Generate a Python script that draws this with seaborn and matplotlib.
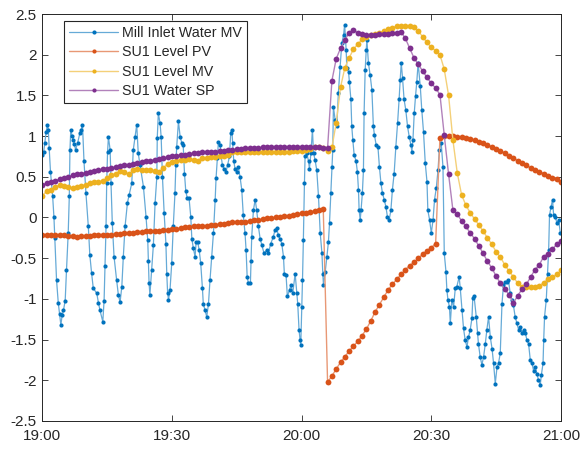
import matplotlib
matplotlib.use("Agg")
import matplotlib.pyplot as plt
import matplotlib.colors as mcolors
import numpy as np
import seaborn as sns

# ── Data (minutes after 19:00) ───────────────────────────────────────────────
# Mill inlet water MV: irregular samples, times in minutes
blue_t = [
    0.0, 0.3, 0.6, 0.9, 1.2, 1.4, 1.6, 1.9, 2.4, 2.7,
    2.9, 3.3, 3.7, 4.0, 4.3, 4.6, 4.9, 5.3, 5.6, 6.0,
    6.25, 6.4, 6.6, 6.9, 7.2, 7.45, 7.7, 8.2, 8.7, 9.0,
    9.3, 9.65, 10.1, 10.65, 11.0, 11.4, 11.8, 12.6, 13.0, 13.35,
    14.0, 14.3, 14.5, 14.75, 14.9, 15.1, 15.3, 15.7, 15.9, 16.2,
    16.6, 17.2, 17.6, 18.0, 18.4, 18.75, 19.15, 19.7, 20.1, 20.7,
    21.05, 21.45, 21.85, 22.2, 22.6, 23.4, 24.0, 24.4, 24.55, 24.7,
    24.9, 25.3, 25.7, 26.1, 26.5, 26.6, 26.85, 27.25, 27.5, 27.8,
    28.2, 28.6, 28.8, 29.0, 29.2, 29.55, 29.95, 30.3, 30.7, 30.9,
    31.1, 31.5, 31.9, 32.3, 32.6, 32.9, 33.2, 33.55, 33.95, 34.35,
    34.6, 34.95, 35.35, 35.6, 35.95, 36.3, 36.65, 37.05, 37.25, 37.65,
    38.05, 38.45, 38.8, 39.2, 39.6, 40.0, 40.2, 40.5, 40.75, 41.15,
    41.35, 41.65, 42.05, 42.5, 42.9, 43.3, 43.6, 43.85, 44.05, 44.3,
    44.6, 45.0, 45.35, 45.75, 46.15, 46.5, 46.9, 47.15, 47.4, 47.7,
    48.15, 48.3, 48.45, 48.85, 49.25, 49.6, 50.0, 50.4, 50.8, 51.3,
    51.95, 52.3, 52.85, 53.45, 53.85, 54.25, 54.6, 55.0, 55.4, 55.8,
    56.0, 56.4, 56.7, 57.2, 57.55, 57.95, 58.5, 58.9, 59.1, 59.4,
    59.65, 59.8, 60.05, 60.2, 60.4, 60.65, 60.8, 61.2, 61.6, 61.8,
    62.15, 62.5, 62.75, 63.1, 63.5, 63.9, 64.3, 64.7, 64.9, 65.05,
    65.45, 65.85, 66.2, 66.45, 66.75, 67.0, 67.2, 67.35, 67.75, 68.15,
    68.5, 68.9, 69.3, 69.7, 69.95, 70.3, 70.45, 70.85, 71.05, 71.4,
    71.6, 71.85, 72.15, 72.6, 72.9, 73.15, 73.3, 73.55, 73.75, 74.05,
    74.3, 74.45, 74.7, 74.95, 75.1, 75.45, 75.85, 76.25, 76.6, 76.85,
    77.25, 77.65, 78.0, 78.35, 78.7, 79.1, 79.5, 79.85, 80.25, 80.65,
    81.0, 81.4, 81.8, 82.2, 82.55, 82.8, 83.05, 83.35, 83.7, 84.1,
    84.5, 84.9, 85.3, 85.5, 85.75, 86.05, 86.35, 86.65, 86.95, 87.45,
    87.8, 88.2, 88.6, 89.0, 89.2, 89.6, 90.0, 90.4, 90.75, 91.15,
    91.55, 91.85, 92.3, 92.7, 93.0, 93.4, 93.6, 93.85, 94.2, 94.4,
    94.75, 95.15, 95.55, 95.9, 96.45, 96.7, 97.1, 97.45, 97.85, 98.25,
    98.6, 99.0, 99.4, 99.6, 99.9, 100.4, 100.7, 100.9, 101.3, 101.7,
    102.1, 102.5, 102.85, 103.25, 103.65, 104.05, 104.4, 104.8, 105.2, 105.55,
    105.95, 106.35, 106.7, 107.1, 107.5, 107.85, 108.25, 108.65, 109.0, 109.4,
    109.8, 110.2, 110.6, 110.95, 111.35, 111.75, 112.15, 112.5, 112.9, 113.3,
    113.65, 114.05, 114.45, 114.8, 115.2, 115.45, 115.85, 116.0, 116.2, 116.6,
    116.9, 117.15, 117.35, 117.7, 118.05, 118.3, 118.7, 119.05, 119.45, 119.85,
]
blue_v = [
    0.77, 0.80, 0.92, 1.05, 1.14, 1.08, 0.85, 0.56, 0.26, 0.00,
    -0.25, -0.77, -1.05, -1.18, -1.32, -1.20, -1.14, -1.02, -0.65, -0.19,
    0.26, 0.83, 1.08, 1.00, 0.95, 0.90, 0.83, 0.92, 1.04, 1.08,
    1.14, 0.69, 0.30, -0.11, -0.46, -0.68, -0.87, -0.93, -1.05, -1.14,
    -1.28, -1.02, -0.60, -0.11, 0.42, 0.80, 0.99, 0.83, 0.42, -0.07,
    -0.48, -0.77, -0.95, -1.04, -0.85, -0.48, -0.11, 0.18, 0.28, 0.42,
    0.83, 0.99, 1.14, 0.79, 0.65, 0.38, 0.01, -0.28, -0.54, -0.80,
    -0.95, -0.65, -0.34, 0.18, 0.50, 0.98, 1.28, 1.16, 0.99, 0.50,
    0.05, -0.32, -0.69, -0.93, -1.01, -0.89, -0.56, -0.11, 0.30, 0.65,
    0.87, 1.18, 0.99, 0.91, 0.89, 0.54, 0.32, 0.24, 0.24, 0.01,
    -0.26, -0.38, -0.48, -0.30, -0.30, -0.40, -0.56, -0.87, -1.06, -1.14,
    -1.22, -1.06, -0.77, -0.48, -0.19, 0.22, 0.48, 0.73, 0.93, 0.89,
    0.77, 0.65, 0.60, 0.56, 0.65, 0.75, 1.04, 1.08, 0.91, 0.69,
    0.60, 0.56, 0.62, 0.50, 0.34, 0.03, -0.19, -0.40, -0.73, -0.81,
    -0.81, -0.54, -0.24, 0.09, 0.22, 0.09, -0.11, -0.26, -0.34, -0.44,
    -0.40, -0.44, -0.32, -0.24, -0.15, -0.13, -0.22, -0.26, -0.32, -0.48,
    -0.69, -0.71, -0.97, -0.89, -0.83, -0.93, -0.69, -0.93, -1.06, -1.38,
    -1.51, -1.57, -1.10, -0.77, -0.28, 0.42, 0.75, 0.79, 0.69, 0.60,
    0.79, 1.08, 0.79, 0.71, 0.58, 0.26, -0.19, -0.44, -0.69, -0.83,
    -0.67, -0.48, -0.30, -0.07, 0.30, 0.62, 0.83, 1.36, 1.20, 1.12,
    1.53, 1.85, 2.14, 2.24, 2.37, 2.06, 1.84, 1.79, 1.67, 1.45,
    1.12, 0.95, 0.77, 0.69, 0.56, 0.34, 0.09, -0.03, 0.09, 0.30,
    0.58, 1.28, 1.81, 2.06, 2.18, 1.90, 1.75, 1.57, 1.12, 1.01,
    0.89, 0.87, 0.62, 0.42, 0.30, 0.22, 0.13, 0.01, -0.03, 0.09,
    0.34, 0.54, 0.87, 1.16, 1.45, 1.69, 1.90, 1.71, 1.45, 1.32,
    1.12, 0.99, 0.89, 0.81, 0.95, 1.28, 1.49, 1.67, 1.90, 1.61,
    1.32, 1.05, 0.67, 0.44, 0.09, -0.03, -0.19, -0.03, 0.22, 0.36,
    0.58, 0.83, 0.91, 0.62, -0.44, -0.67, -0.89, -1.01, -1.10, -1.30,
    -1.01, -1.10, -0.87, -0.85, -0.73, -0.87, -1.14, -1.36, -1.51, -1.59,
    -1.47, -1.38, -1.24, -0.99, -0.97, -1.22, -1.42, -1.55, -1.71, -1.81,
    -1.71, -1.55, -1.38, -1.22, -1.47, -1.61, -1.79, -2.04, -1.84, -1.79,
    -1.67, -1.06, -0.83, -0.79, -0.79, -0.77, -0.93, -1.01, -1.08, -1.22,
    -1.30, -1.38, -1.34, -1.42, -1.38, -1.42, -1.51, -1.55, -1.75, -1.79,
    -1.88, -1.84, -1.92, -2.00, -2.06, -1.94, -1.79, -1.51, -1.22, -1.01,
    -0.69, -0.40, 0.03, 0.13, 0.22, 0.03, 0.01, -0.07, -0.03, -0.19,
]

# SU1 tags: one sample per minute, 19:00 .. 21:00
level_pv = [
    -0.21, -0.21, -0.21, -0.22, -0.22, -0.22, -0.23, -0.23, -0.24, -0.23,
    -0.23, -0.23, -0.22, -0.22, -0.22, -0.21, -0.21, -0.20, -0.20, -0.19,
    -0.19, -0.19, -0.18, -0.18, -0.17, -0.17, -0.16, -0.16, -0.15, -0.15,
    -0.14, -0.14, -0.13, -0.12, -0.12, -0.11, -0.11, -0.10, -0.10, -0.09,
    -0.09, -0.08, -0.08, -0.07, -0.06, -0.06, -0.05, -0.05, -0.04, -0.03,
    -0.03, -0.02, -0.01, -0.01, 0.00, 0.01, 0.02, 0.02, 0.03, 0.04,
    0.05, 0.06, 0.07, 0.08, 0.09, 0.11, -2.02, -1.95, -1.86, -1.78,
    -1.71, -1.64, -1.58, -1.52, -1.45, -1.37, -1.27, -1.16, -1.07, -0.98,
    -0.89, -0.82, -0.76, -0.70, -0.64, -0.59, -0.55, -0.50, -0.45, -0.41,
    -0.37, -0.32, 0.98, 1.00, 1.00, 1.00, 0.99, 0.99, 0.98, 0.97,
    0.95, 0.93, 0.91, 0.89, 0.87, 0.84, 0.82, 0.79, 0.76, 0.73,
    0.70, 0.67, 0.64, 0.61, 0.58, 0.56, 0.54, 0.51, 0.49, 0.47,
    0.44,
]
level_mv = [
    0.27, 0.32, 0.34, 0.37, 0.40, 0.39, 0.37, 0.36, 0.37, 0.39,
    0.40, 0.42, 0.43, 0.44, 0.45, 0.48, 0.52, 0.54, 0.57, 0.56,
    0.53, 0.58, 0.60, 0.58, 0.58, 0.58, 0.57, 0.56, 0.61, 0.66,
    0.68, 0.69, 0.71, 0.71, 0.72, 0.71, 0.70, 0.73, 0.73, 0.74,
    0.74, 0.75, 0.75, 0.77, 0.80, 0.81, 0.81, 0.81, 0.81, 0.80,
    0.80, 0.80, 0.80, 0.80, 0.81, 0.81, 0.81, 0.81, 0.82, 0.82,
    0.82, 0.83, 0.84, 0.86, 0.87, 0.85, 0.82, 0.86, 1.16, 1.60,
    1.84, 1.96, 2.07, 2.13, 2.19, 2.22, 2.24, 2.26, 2.27, 2.29,
    2.32, 2.33, 2.35, 2.35, 2.35, 2.35, 2.34, 2.29, 2.22, 2.15,
    2.09, 2.05, 2.00, 1.82, 1.50, 0.95, 0.55, 0.28, 0.15, 0.06,
    -0.02, -0.09, -0.17, -0.25, -0.33, -0.42, -0.49, -0.58, -0.66, -0.73,
    -0.81, -0.85, -0.86, -0.86, -0.86, -0.84, -0.80, -0.76, -0.73, -0.70,
    -0.65,
]
water_sp = [
    0.40, 0.42, 0.43, 0.45, 0.47, 0.49, 0.50, 0.52, 0.53, 0.54,
    0.55, 0.56, 0.57, 0.58, 0.59, 0.60, 0.61, 0.62, 0.63, 0.64,
    0.65, 0.66, 0.67, 0.68, 0.69, 0.70, 0.71, 0.72, 0.73, 0.74,
    0.75, 0.76, 0.77, 0.77, 0.78, 0.79, 0.79, 0.80, 0.80, 0.81,
    0.81, 0.82, 0.82, 0.83, 0.83, 0.84, 0.84, 0.85, 0.85, 0.85,
    0.85, 0.86, 0.86, 0.86, 0.86, 0.86, 0.86, 0.86, 0.86, 0.86,
    0.86, 0.86, 0.86, 0.86, 0.86, 0.85, 0.85, 1.68, 1.95, 2.08,
    2.18, 2.27, 2.30, 2.27, 2.25, 2.24, 2.24, 2.24, 2.25, 2.26,
    2.26, 2.27, 2.27, 2.28, 2.20, 2.08, 1.96, 1.88, 1.80, 1.72,
    1.65, 1.59, 1.51, 1.01, 0.53, 0.09, 0.04, -0.04, -0.11, -0.19,
    -0.26, -0.35, -0.44, -0.54, -0.62, -0.72, -0.81, -0.88, -0.95, -1.05,
    -0.96, -0.88, -0.82, -0.73, -0.64, -0.58, -0.48, -0.45, -0.39, -0.33,
    -0.29,
]
minutes = list(range(0, 121))

series_names = ["Mill Inlet Water MV", "SU1 Level PV", "SU1 Level MV", "SU1 Water SP"]
series_colors = ["#0072BD", "#D95319", "#EDB120", "#7E2F8E"]

x_ticks = [0, 30, 60, 90, 120]
x_labels = ["19:00", "19:30", "20:00", "20:30", "21:00"]
y_ticks = [-2.5, -2, -1.5, -1, -0.5, 0, 0.5, 1, 1.5, 2, 2.5]


def lighten(color, amount=0.4):
    rgb = np.array(mcolors.to_rgb(color))
    return tuple(rgb + (1 - rgb) * amount)


# ── Plot ─────────────────────────────────────────────────────────────────────
sns.set_theme(style="ticks")
plt.rcParams["font.family"] = ["Liberation Sans", "DejaVu Sans"]
plt.rcParams["axes.unicode_minus"] = False

fig = plt.figure(figsize=(5.8, 4.49), dpi=100)
ax = fig.add_axes([0.0729, 0.0624, 0.8943, 0.9064])

# (x, y, marker size, line width)
plot_sets = [
    (blue_t, blue_v, 3.0, 0.9),
    (minutes, level_pv, 4.2, 1.0),
    (minutes, level_mv, 4.2, 1.0),
    (minutes, water_sp, 4.2, 1.0),
]
for (xs, ys, ms, lw), name, col in zip(plot_sets, series_names, series_colors):
    sns.lineplot(x=xs, y=ys, ax=ax, estimator=None, sort=False,
                 color=lighten(col), linewidth=lw,
                 marker="o", markersize=ms, markerfacecolor=col,
                 markeredgecolor=col, markeredgewidth=0, label=name)

ax.set_xlim(0, 120)
ax.set_ylim(-2.5, 2.5)
ax.set_xticks(x_ticks)
ax.set_xticklabels(x_labels)
ax.set_yticks(y_ticks)
ax.set_yticklabels([f"{v:g}" for v in y_ticks])
ax.set_xlabel("")
ax.set_ylabel("")

ax.tick_params(direction="in", top=True, right=True, length=4, width=0.6,
               labelsize=11, colors="#262626")
ax.tick_params(axis="x", pad=6)
ax.tick_params(axis="y", pad=4)
for sp in ax.spines.values():
    sp.set_visible(True)
    sp.set_color("#262626")
    sp.set_linewidth(0.7)

leg = ax.legend(loc="upper left", bbox_to_anchor=(0.0424, 0.9835),
                borderaxespad=0, frameon=True, fancybox=False,
                edgecolor="#262626", framealpha=1, fontsize=10.3,
                handlelength=3.4, handletextpad=0.3, labelspacing=0.38,
                borderpad=0.35)
leg.get_frame().set_linewidth(0.8)
# legend markers a bit smaller than the thick SU1 bands
for h in leg.legend_handles:
    h.set_markersize(3.0)

plt.savefig("out.png", dpi=100)
plt.close()
